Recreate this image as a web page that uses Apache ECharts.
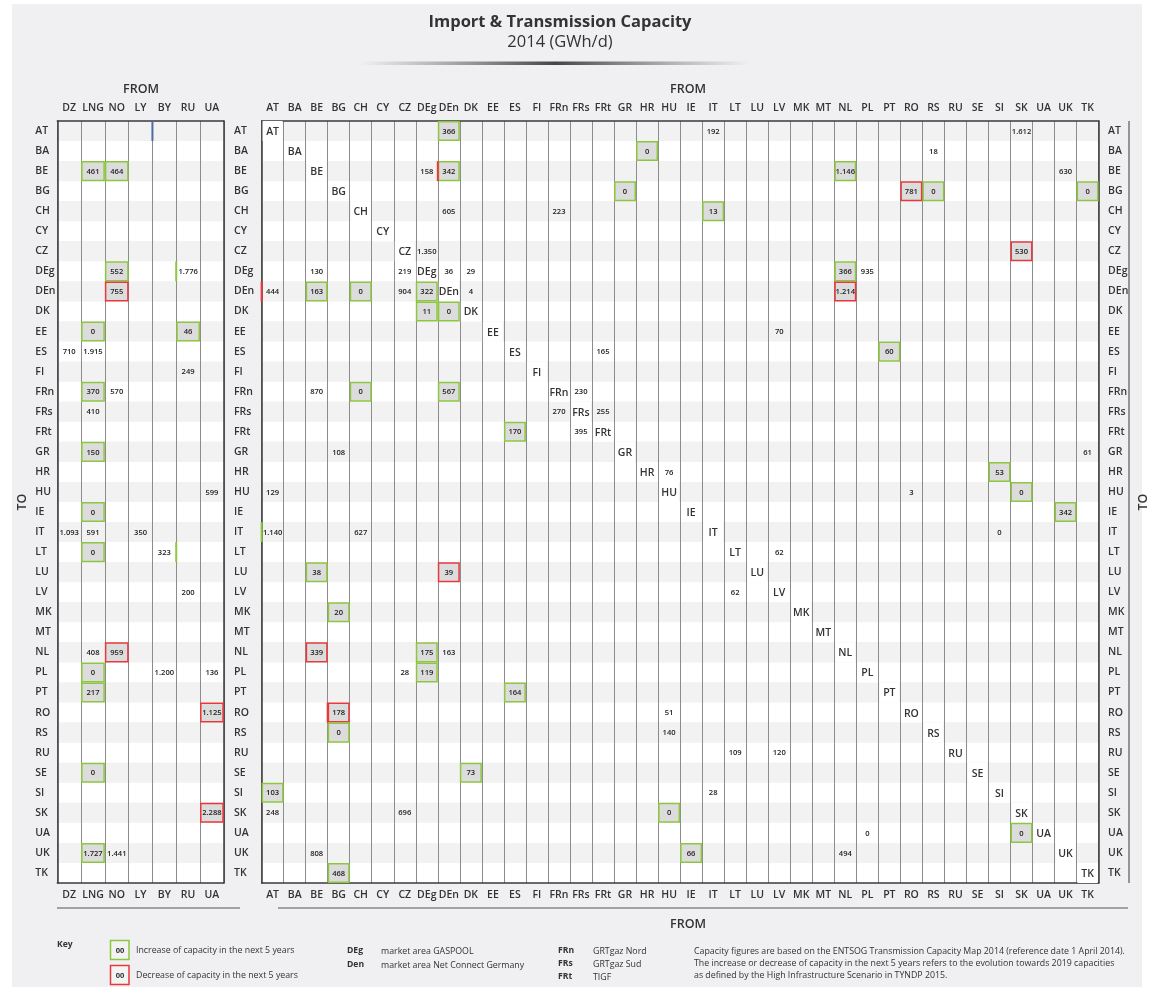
<!DOCTYPE html>
<html><head><meta charset="utf-8">
<script src="https://cdn.jsdelivr.net/npm/echarts@6/dist/echarts.min.js"></script>
<style>html,body{margin:0;padding:0;background:#fff}#c{width:1155px;height:987px}</style>
</head><body><div id="c"></div>
<script>
// ---------- DATA ----------
const rows = ['AT','BA','BE','BG','CH','CY','CZ','DEg','DEn','DK','EE','ES','FI','FRn','FRs','FRt','GR','HR','HU','IE','IT','LT','LU','LV','MK','MT','NL','PL','PT','RO','RS','RU','SE','SI','SK','UA','UK','TK'];
const importSources = ['DZ','LNG','NO','LY','BY','RU','UA'];
const fromCountries = ['AT','BA','BE','BG','CH','CY','CZ','DEg','DEn','DK','EE','ES','FI','FRn','FRs','FRt','GR','HR','HU','IE','IT','LT','LU','LV','MK','MT','NL','PL','PT','RO','RS','RU','SE','SI','SK','UA','UK','TK'];
// [to, from, GWh/d, change in next 5 years: 1 increase, -1 decrease, 0 none]
const importValues = [
 ['BE','LNG',461,1],['BE','NO',464,1],
 ['DEg','NO',552,1],['DEg','RU',1776,0],
 ['DEn','NO',755,-1],
 ['EE','LNG',0,1],['EE','RU',46,1],
 ['ES','DZ',710,0],['ES','LNG',1915,0],
 ['FI','RU',249,0],
 ['FRn','LNG',370,1],['FRn','NO',570,0],
 ['FRs','LNG',410,0],
 ['GR','LNG',150,1],
 ['HU','UA',599,0],
 ['IE','LNG',0,1],
 ['IT','DZ',1093,0],['IT','LNG',591,0],['IT','LY',350,0],
 ['LT','LNG',0,1],['LT','BY',323,0],
 ['LV','RU',200,0],
 ['NL','LNG',408,0],['NL','NO',959,-1],
 ['PL','LNG',0,1],['PL','BY',1200,0],['PL','UA',136,0],
 ['PT','LNG',217,1],
 ['RO','UA',1125,-1],
 ['SE','LNG',0,1],
 ['SK','UA',2288,-1],
 ['UK','LNG',1727,1],['UK','NO',1441,0]
];
const transmissionValues = [
 ['AT','DEn',366,1],['AT','IT',192,0],['AT','SK',1612,0],
 ['BA','HR',0,1],['BA','RS',18,0],
 ['BE','DEg',158,0],['BE','DEn',342,1],['BE','NL',1146,1],['BE','UK',630,0],
 ['BG','GR',0,1],['BG','RO',781,-1],['BG','RS',0,1],['BG','TK',0,1],
 ['CH','DEn',605,0],['CH','FRn',223,0],['CH','IT',13,1],
 ['CZ','DEg',1350,0],['CZ','SK',530,-1],
 ['DEg','BE',130,0],['DEg','CZ',219,0],['DEg','DEn',36,0],['DEg','DK',29,0],['DEg','NL',366,1],['DEg','PL',935,0],
 ['DEn','AT',444,0],['DEn','BE',163,1],['DEn','CH',0,1],['DEn','CZ',904,0],['DEn','DEg',322,1],['DEn','DK',4,0],['DEn','NL',1214,-1],
 ['DK','DEg',11,1],['DK','DEn',0,1],
 ['EE','LV',70,0],
 ['ES','FRt',165,0],['ES','PT',60,1],
 ['FRn','BE',870,0],['FRn','CH',0,1],['FRn','DEn',567,1],['FRn','FRs',230,0],
 ['FRs','FRn',270,0],['FRs','FRt',255,0],
 ['FRt','ES',170,1],['FRt','FRs',395,0],
 ['GR','BG',108,0],['GR','TK',61,0],
 ['HR','HU',76,0],['HR','SI',53,1],
 ['HU','AT',129,0],['HU','RO',3,0],['HU','SK',0,1],
 ['IE','UK',342,1],
 ['IT','AT',1140,0],['IT','CH',627,0],['IT','SI',0,0],
 ['LT','LV',62,0],
 ['LU','BE',38,1],['LU','DEn',39,-1],
 ['LV','LT',62,0],
 ['MK','BG',20,1],
 ['NL','BE',339,-1],['NL','DEg',175,1],['NL','DEn',163,0],
 ['PL','CZ',28,0],['PL','DEg',119,1],
 ['PT','ES',164,1],
 ['RO','BG',178,-1],['RO','HU',51,0],
 ['RS','BG',0,1],['RS','HU',140,0],
 ['RU','LT',109,0],['RU','LV',120,0],
 ['SE','DK',73,1],
 ['SI','AT',103,1],['SI','IT',28,0],
 ['SK','AT',248,0],['SK','CZ',696,0],['SK','HU',0,1],
 ['UA','PL',0,0],['UA','SK',0,1],
 ['UK','BE',808,0],['UK','IE',66,1],['UK','NL',494,0],
 ['TK','BG',468,1]
];
// partial cell-edge strokes seen in the source: [to, from, side, colour]
const importEdges = [['AT','LY','right','blue'],['DEg','RU','left','green'],['LT','BY','right','green']];
const transmissionEdges = [['BE','DEg','right','red'],['DEn','AT','left','red'],['IT','AT','left','green'],['RO','BG','left','red']];

// ---------- STYLE ----------
const FONT = '"Open Sans", "Noto Sans", sans-serif';
const C = {green:'#8dc63f', red:'#e8383d', blue:'#4a6fa8', dark:'#333', fill:'#dcdcdc'};
const fmt = v => v >= 1000 ? Math.floor(v/1000) + '.' + String(v%1000).padStart(3,'0') : String(v);

function cellData(list, cols){
  return list.map(d => [cols.indexOf(d[1]), rows.indexOf(d[0]), d[2], d[3]]);
}
function renderCell(params, api){
  const c = api.coord([api.value(0), api.value(1)]);
  const s = api.size([1,1]);
  const ch = api.value(3);
  const kids = [];
  if (ch !== 0) {
    kids.push({type:'rect', shape:{x:c[0]-s[0]/2+0.75, y:c[1]-s[1]/2+0.75, width:s[0]-1.5, height:s[1]-1.5},
      style:{fill:C.fill, stroke: ch > 0 ? C.green : C.red, lineWidth:1.5}});
  }
  kids.push({type:'text', x:c[0], y:c[1]+0.5, style:{text:fmt(api.value(2)), align:'center', verticalAlign:'middle',
    fontSize:7.6, fontWeight:600, fontFamily:FONT, fill:'#222'}});
  return {type:'group', children:kids};
}
function renderDiag(params, api){
  const c = api.coord([api.value(0), api.value(1)]);
  const s = api.size([1,1]);
  return {type:'group', children:[
    {type:'rect', shape:{x:c[0]-s[0]/2+1, y:c[1]-s[1]/2, width:s[0]-2, height:s[1]}, style:{fill:'#fff'}},
    {type:'text', x:c[0], y:c[1]+1, style:{text:rows[api.value(1)], align:'center', verticalAlign:'middle',
      fontSize:10.5, fontWeight:600, fontFamily:FONT, fill:C.dark}}
  ]};
}
function renderEdge(params, api){
  const c = api.coord([api.value(0), api.value(1)]);
  const s = api.size([1,1]);
  const x = c[0] + api.value(2) * s[0]/2;
  const col = [C.green, C.red, C.blue][api.value(3)];
  return {type:'line', shape:{x1:x, y1:c[1]-s[1]/2, x2:x, y2:c[1]+s[1]/2}, style:{stroke:col, lineWidth:2}};
}
function edgeData(list, cols){
  return list.map(d => [cols.indexOf(d[1]), rows.indexOf(d[0]), d[2]==='left'?-1:1, ['green','red','blue'].indexOf(d[3])]);
}

const labelStyle = {interval:0, fontSize:10.5, fontWeight:600, fontFamily:FONT, color:C.dark};
const borderLine = {show:true, lineStyle:{color:'#3a3a3a', width:1.5}};
function xAx(grid, data, pos, split){
  return {type:'category', gridIndex:grid, data:data, position:pos, boundaryGap:true,
    axisLine:borderLine, axisTick:{show:false}, axisLabel:Object.assign({margin:7}, labelStyle),
    splitLine:{show:split, interval:0, lineStyle:{color:'#8c8c8c', width:1}}};
}
function yAx(grid, pos, margin, showLabel, stripes){
  return {type:'category', gridIndex:grid, data:rows, inverse:true, position:pos, boundaryGap:true,
    axisLine:borderLine, axisTick:{show:false},
    axisLabel:Object.assign({show:showLabel, margin:margin, align:'left'}, labelStyle),
    splitArea:{show:stripes, interval:0, areaStyle:{color:['#f2f2f2','#ffffff']}}};
}
const small = (x, y, text, bold) => ({type:'text', x:x, y:y, style:{text:text, verticalAlign:'middle',
  fontSize: bold ? 8.6 : 8.8, fontWeight: bold ? 700 : 400, fontFamily:FONT, fill:'#333'}});

const TOP = 121, H = 762;
const chart = echarts.init(document.getElementById('c'), null, {renderer:'canvas'});
chart.setOption({
  animation:false,
  backgroundColor:'#ffffff',
  grid:[
    {left:57.3, top:TOP, width:166.5, height:H},
    {left:261.6, top:TOP, width:837, height:H}
  ],
  xAxis:[
    xAx(0, importSources, 'top', true), xAx(0, importSources, 'bottom', false),
    xAx(1, fromCountries, 'top', true), xAx(1, fromCountries, 'bottom', false)
  ],
  yAxis:[
    yAx(0, 'left', 22, true, true), yAx(0, 'right', 8, false, false),
    yAx(1, 'left', 27.6, true, true), yAx(1, 'right', 9.5, true, false)
  ],
  graphic:[
    {type:'rect', z:-10, silent:true, shape:{x:12, y:4, width:1130, height:990}, style:{fill:'#f0f0f2'}},
    {type:'text', x:560, y:22, style:{text:'Import & Transmission Capacity', align:'center', verticalAlign:'middle', fontSize:16.5, fontWeight:700, fontFamily:FONT, fill:'#333'}},
    {type:'text', x:560, y:42, style:{text:'2014 (GWh/d)', align:'center', verticalAlign:'middle', fontSize:16.5, fontWeight:400, fontFamily:FONT, fill:'#333'}},
    {type:'rect', shape:{x:360, y:61.5, width:390, height:3.5},
      style:{fill:new echarts.graphic.LinearGradient(0,0,1,0,[{offset:0,color:'rgba(90,90,90,0)'},{offset:0.5,color:'rgba(60,60,60,0.95)'},{offset:1,color:'rgba(90,90,90,0)'}])}},
    {type:'text', x:141, y:89, style:{text:'FROM', align:'center', verticalAlign:'middle', fontSize:12.5, fontWeight:600, fontFamily:FONT, fill:'#333'}},
    {type:'text', x:688, y:89, style:{text:'FROM', align:'center', verticalAlign:'middle', fontSize:12.5, fontWeight:600, fontFamily:FONT, fill:'#333'}},
    {type:'text', x:688, y:924, style:{text:'FROM', align:'center', verticalAlign:'middle', fontSize:12.5, fontWeight:600, fontFamily:FONT, fill:'#333'}},
    {type:'text', x:22, y:502, rotation:Math.PI/2, style:{text:'TO', align:'center', verticalAlign:'middle', fontSize:12.5, fontWeight:600, fontFamily:FONT, fill:'#333'}},
    {type:'text', x:1143, y:502, rotation:Math.PI/2, style:{text:'TO', align:'center', verticalAlign:'middle', fontSize:12.5, fontWeight:600, fontFamily:FONT, fill:'#333'}},
    {type:'line', shape:{x1:1129, y1:121, x2:1129, y2:883}, style:{stroke:'#777', lineWidth:1.5}},
    {type:'line', shape:{x1:57, y1:908, x2:240, y2:908}, style:{stroke:'#888', lineWidth:1.5}},
    {type:'line', shape:{x1:278, y1:908, x2:1128, y2:908}, style:{stroke:'#888', lineWidth:1.5}},
    // key
    small(57, 945, 'Key', true),
    {type:'rect', shape:{x:110.5, y:940.5, width:18.5, height:19}, style:{fill:'#f3f3f3', stroke:C.green, lineWidth:1.5}},
    {type:'text', x:120, y:950.5, style:{text:'00', align:'center', verticalAlign:'middle', fontSize:7.5, fontWeight:700, fontFamily:FONT, fill:'#333'}},
    small(136, 950, 'Increase of capacity in the next 5 years'),
    {type:'rect', shape:{x:110.5, y:965.5, width:18.5, height:19}, style:{fill:'#f3f3f3', stroke:C.red, lineWidth:1.5}},
    {type:'text', x:120, y:975.5, style:{text:'00', align:'center', verticalAlign:'middle', fontSize:7.5, fontWeight:700, fontFamily:FONT, fill:'#333'}},
    small(136, 975, 'Decrease of capacity in the next 5 years'),
    small(347, 951, 'DEg', true), small(381, 951, 'market area GASPOOL'),
    small(347, 965, 'Den', true), small(381, 965, 'market area Net Connect Germany'),
    small(558, 951, 'FRn', true), small(593, 951, 'GRTgaz Nord'),
    small(558, 964, 'FRs', true), small(593, 964, 'GRTgaz Sud'),
    small(558, 977, 'FRt', true), small(593, 977, 'TIGF'),
    small(694, 951, 'Capacity figures are based on the ENTSOG Transmission Capacity Map 2014 (reference date 1 April 2014).'),
    small(694, 963, 'The increase or decrease of capacity in the next 5 years refers to the evolution towards 2019 capacities'),
    small(694, 975, 'as defined by the High Infrastructure Scenario in TYNDP 2015.')
  ],
  series:[
    {type:'custom', xAxisIndex:0, yAxisIndex:0, renderItem:renderCell, data:cellData(importValues, importSources), z:3},
    {type:'custom', xAxisIndex:0, yAxisIndex:0, renderItem:renderEdge, data:edgeData(importEdges, importSources), z:4},
    {type:'custom', xAxisIndex:2, yAxisIndex:2, renderItem:renderDiag, data:rows.map((r,i)=>[fromCountries.indexOf(r), i]), z:2},
    {type:'custom', xAxisIndex:2, yAxisIndex:2, renderItem:renderCell, data:cellData(transmissionValues, fromCountries), z:3},
    {type:'custom', xAxisIndex:2, yAxisIndex:2, renderItem:renderEdge, data:edgeData(transmissionEdges, fromCountries), z:4}
  ]
});
</script></body></html>
